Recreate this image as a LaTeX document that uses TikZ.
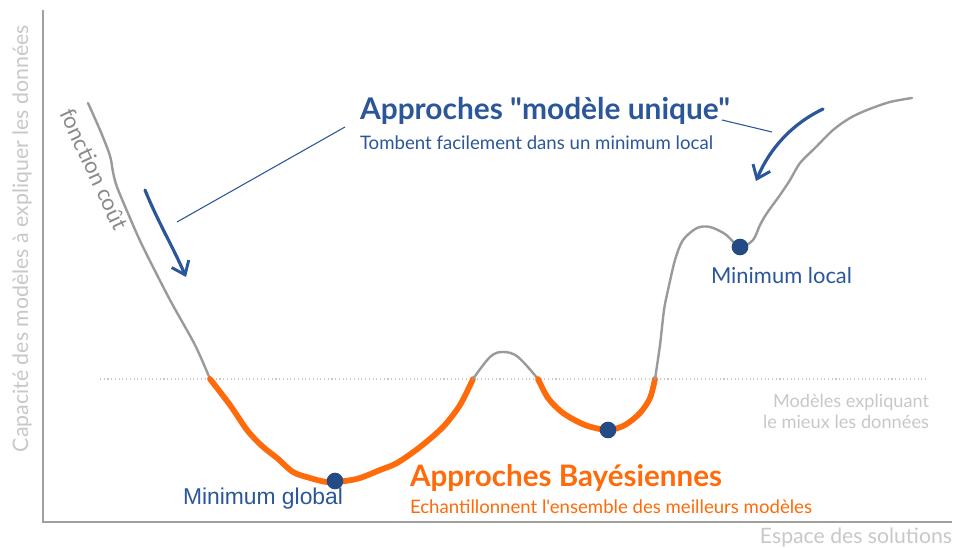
\documentclass[tikz,border=0pt]{standalone}
\usepackage{fontspec}
\usepackage{graphicx}
\setmainfont{Lato}[Ligatures=TeXOff]
\newfontfamily\arialf{Liberation Sans}
\usetikzlibrary{arrows.meta}
\definecolor{txtblue}{HTML}{2B579A}
\definecolor{dotblue}{HTML}{254B85}
\definecolor{bayes}{HTML}{FF6A0A}
\definecolor{curvegray}{HTML}{9A9A9A}
\definecolor{axisgray}{HTML}{A0A0A0}
\definecolor{lightlab}{HTML}{C8C8C8}
\definecolor{fcgray}{HTML}{8A8A8A}
\newcommand{\fitw}[2]{\resizebox{#1}{!}{#2}}
\tikzset{
  graycurve/.style={draw=curvegray, line width=1.8pt, line cap=round, line join=round},
  bayescurve/.style={draw=bayes, line width=4.3pt, line cap=round, line join=round},
  mindot/.style={circle, fill=dotblue, inner sep=0pt, minimum size=12.5pt},
  lab/.style={inner sep=0pt, outer sep=0pt},
  bigarrow/.style={draw=txtblue, line width=2.4pt, line cap=round, -{Straight Barb[length=9pt,width=14pt,line width=2.2pt]}},
  pointer/.style={draw=txtblue, line width=0.8pt},
}
\begin{document}
\begin{tikzpicture}[x=0.75pt, y=-0.75pt]
\path[use as bounding box, fill=white] (0,0) rectangle (955,548);
% axes
\coordinate (ytop) at (43,10);
\coordinate (orig) at (43,522);
\coordinate (xend) at (952,522);
\draw[axisgray, line width=1.4pt] (ytop) -- (orig) -- (xend);
% dotted threshold
\coordinate (thl) at (100,379);
\coordinate (thr) at (926,379);
\draw[lightlab, line width=0.8pt, dotted] (thl) -- (thr);
% axis labels
\node[lab, text=lightlab, rotate=90] (ylab) at (22,238.5) {\fitw{427\dimexpr0.75pt\relax}{Capacité des modèles à expliquer les données}};
\node[lab, text=lightlab, anchor=east] (xlab) at (952,538) {\fitw{192\dimexpr0.75pt\relax}{Espace des solutions}};
% curve
\draw[graycurve] plot[smooth, tension=0.5] coordinates {(88,103) (100,130) (108,150) (111,160) (113,172) (117,187) (130,218) (143,247) (170,300) (195,345) (210,379)};
\draw[bayescurve] plot[smooth, tension=0.5] coordinates {(210,379) (230,405) (247,430) (262,446) (277,458) (293,472) (310,478) (327,482) (345,481) (360,478) (380,470) (397,463) (420,447) (443,427) (460,405) (473,379)};
\draw[graycurve] plot[smooth, tension=0.6] coordinates {(473,379) (490,357) (503,352) (518,357) (538,379)};
\draw[bayescurve] plot[smooth, tension=0.5] coordinates {(538,379) (548,398) (563,413) (585,425) (608,430) (625,425) (640,413) (650,398) (655,379)};
\draw[graycurve] plot[smooth, tension=0.5] coordinates {(655,379) (660,345) (664,310) (668,290) (675,260) (683,240) (697,228) (710,227) (725,234) (740,247) (753,240) (760,225) (767,213) (780,195) (790,180) (800,163) (815,148) (833,130) (850,118) (867,110) (890,102) (912,98)};
% fonction cout label
\node[lab, text=fcgray, rotate=-65] (fc) at (94,169) {\fitw{131\dimexpr0.75pt\relax}{fonction coût}};
% minima
\node[mindot] (gmin) at (335,481) {};
\node[mindot] (bmin) at (608,430) {};
\node[mindot] (lmin) at (740,247) {};
% labels
\node[lab, text=txtblue, anchor=west] (head1) at (360,111) {\fitw{370\dimexpr0.75pt\relax}{\bfseries Approches "modèle unique"}};
\node[lab, text=txtblue, anchor=west] (sub1) at (360,143) {\fitw{353\dimexpr0.75pt\relax}{Tombent facilement dans un minimum local}};
\node[lab, text=txtblue, anchor=west] (lminlab) at (711,276) {\fitw{141\dimexpr0.75pt\relax}{Minimum local}};
\node[lab, text=txtblue, anchor=west] (gminlab) at (183,499) {\fitw{160\dimexpr0.75pt\relax}{\arialf Minimum global}};
\node[lab, text=bayes, anchor=west] (head2) at (410,478) {\fitw{312\dimexpr0.75pt\relax}{\bfseries Approches Bayésiennes}};
\node[lab, text=bayes, anchor=west] (sub2) at (410,507) {\fitw{402\dimexpr0.75pt\relax}{Echantillonnent l'ensemble des meilleurs modèles}};
\node[lab, text=lightlab, anchor=east] (best1) at (929,402) {\fitw{156\dimexpr0.75pt\relax}{Modèles expliquant}};
\node[lab, text=lightlab, anchor=east] (best2) at (929,422) {\fitw{166\dimexpr0.75pt\relax}{le mieux les données}};
% arrows
\coordinate (la0) at (145,190);
\coordinate (la1) at (186,277);
\draw[bigarrow] (la0) .. controls (158,222) and (172,245) .. (la1);
\coordinate (ra0) at (823,109);
\coordinate (ra1) at (756,181);
\draw[bigarrow] (ra0) .. controls (792,124) and (770,148) .. (ra1);
% pointers
\coordinate (p1a) at (345,127);
\coordinate (p1b) at (177,222);
\draw[pointer] (p1a) -- (p1b);
\coordinate (p2a) at (722,120);
\coordinate (p2b) at (772,132);
\draw[pointer] (p2a) -- (p2b);
\end{tikzpicture}
\end{document}
